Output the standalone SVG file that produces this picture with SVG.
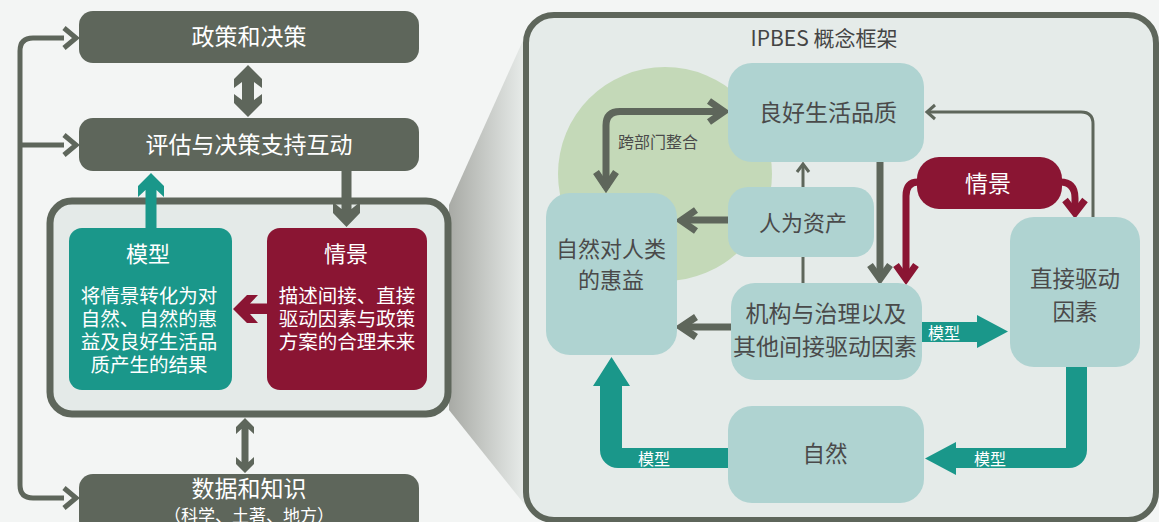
<svg xmlns="http://www.w3.org/2000/svg" width="1159" height="522" viewBox="0 0 1159 522">
<defs>
<linearGradient id="funnel" x1="0" y1="0" x2="1" y2="0">
<stop offset="0" stop-color="#a8aaa5"/>
<stop offset="1" stop-color="#e8ecea"/>
</linearGradient>
<style>
text{font-family:"Noto Sans CJK SC","Noto Sans",sans-serif;text-anchor:middle}
.dk{fill:#5e665b}
.w{fill:#ffffff}
.g{fill:#4a4a4a}
.node{fill:#afd3d1}
.teal{fill:#1a978a}
.red{fill:#8a1533}
.ln{fill:none;stroke:#5e665b;stroke-width:5}
.gl{fill:none;stroke:#5e665b;stroke-width:7;stroke-linejoin:miter}
.th{fill:none;stroke:#5e665b;stroke-width:3}
.rl{fill:none;stroke:#8a1533;stroke-width:7;stroke-linejoin:miter}
</style>
</defs>
<rect width="1159" height="522" fill="#f3f5f4"/>
<polygon points="449,205 525,36 525,505 449,410" fill="url(#funnel)"/>

<g id="connectors-left">
<path class="ln" d="M64,38 H33 Q20,38 20,51 V485 Q20,498 33,498 H64 M20,145 H64"/>
<polyline class="ln" points="64,28 76,38 64,48"/>
<polyline class="ln" points="64,135 76,145 64,155"/>
<polyline class="ln" points="64,488 76,498 64,508"/>
<polygon class="dk" points="248,65 262,79 262,88 254,82 254,100 262,94 262,103 248,117 234,103 234,94 242,100 242,82 234,88 234,79"/>
<polygon class="dk" points="245,418 254,427 254,434 248.5,429 248.5,462 254,457 254,464 245,473 236,464 236,457 241.5,462 241.5,429 236,434 236,427"/>
</g>

<g id="policy">
<rect x="79" y="11" width="340" height="52" rx="14" class="dk"/>
<text x="249" y="45" font-size="23" class="w">政策和决策</text>
</g>
<g id="assessment">
<rect x="79" y="118" width="340" height="53" rx="14" class="dk"/>
<text x="249" y="153" font-size="23" class="w">评估与决策支持互动</text>
</g>
<g id="data">
<rect x="79" y="474" width="340" height="60" rx="14" class="dk"/>
<text x="249" y="497" font-size="23" class="w">数据和知识</text>
<text x="249" y="522" font-size="17" class="w">（科学、土著、地方）</text>
</g>

<g id="container">
<rect x="50" y="201" width="398" height="213" rx="22" fill="#e4eae8" stroke="#5e665b" stroke-width="7"/>
</g>
<g id="model">
<rect x="69" y="228" width="163" height="162" rx="13" class="teal"/>
<text x="148" y="262" font-size="22" class="w">模型</text>
<text x="149" y="303" font-size="19.5" class="w">将情景转化为对</text>
<text x="149" y="326" font-size="19.5" class="w">自然、自然的惠</text>
<text x="149" y="349" font-size="19.5" class="w">益及良好生活品</text>
<text x="149" y="372" font-size="19.5" class="w">质产生的结果</text>
</g>
<g id="scenario">
<rect x="267" y="228" width="160" height="162" rx="13" class="red"/>
<text x="346" y="262" font-size="22" class="w">情景</text>
<text x="347" y="303" font-size="19.5" class="w">描述间接、直接</text>
<text x="347" y="326" font-size="19.5" class="w">驱动因素与政策</text>
<text x="347" y="349" font-size="19.5" class="w">方案的合理未来</text>
</g>
<g id="connectors-inner">
<polygon class="teal" points="151,173 164,186 164,197 156.5,190 156.5,228 145.5,228 145.5,190 138,197 138,186"/>
<polygon class="dk" points="341.5,171 351.5,171 351.5,209 360,202 360,213 346.5,227 333,213 333,202 341.5,209"/>
<polygon class="red" points="233,309 247,295 258,295 250,303.5 267,303.5 267,314 250,314 258,323 247,323"/>
</g>

<g id="ipbes-panel">
<rect x="526" y="15" width="630" height="505" rx="28" fill="#e5ebe9" stroke="#5e665b" stroke-width="6"/>
<text x="824" y="46" font-size="21" fill="#444">IPBES 概念框架</text>
<circle cx="665" cy="174" r="107" fill="#c4d9b8"/>
</g>

<g id="connectors">
<line class="th" x1="803" y1="283" x2="803" y2="164"/>
<polyline class="th" points="797,172 803,164 809,172"/>
<path class="th" d="M1093,217 V124 Q1093,112 1081,112 H927"/>
<polyline class="th" points="935,105 927,112 935,119"/>
<path class="gl" d="M725,111.5 H620 Q606,111.5 606,125.5 V188"/>
<polyline class="gl" points="709,101 724,111.5 709,122"/>
<polyline class="gl" points="596,172 606,187 616,172"/>
<line class="gl" x1="729" y1="220" x2="681" y2="220"/>
<polyline class="gl" points="696,210 681,220.5 696,231"/>
<line class="gl" x1="731" y1="327" x2="681" y2="327"/>
<polyline class="gl" points="696,317 681,327 696,337"/>
<line class="gl" x1="880" y1="162" x2="880" y2="278"/>
<polyline class="gl" points="870,265 880,279 890,265"/>
<path class="rl" d="M918,182 Q906,182 906,196 V278"/>
<polyline class="rl" points="896,265 906,279 916,265"/>
<path class="rl" d="M1060,182 Q1075,182 1075,198 V212"/>
<polyline class="rl" points="1065,200 1075,213 1085,200"/>
<polygon class="teal" points="921,322 977,322 977,315 1008,331.5 977,348 977,342 921,342"/>
<path class="teal" d="M1066,366 H1087 V450 A18,18 0 0 1 1069,468 H956 V475 L925,458.5 L956,442 V448 H1066 Z"/>
<path class="teal" d="M728,448 V468 H618 A18,18 0 0 1 600,450 V386 H593 L611.5,357 L630,386 H622 V448 Z"/>
<text x="944" y="339" font-size="16" class="w">模型</text>
<text x="990" y="465" font-size="16" class="w">模型</text>
<text x="654" y="465" font-size="16" class="w">模型</text>
<text x="658" y="148" font-size="16" class="g">跨部门整合</text>
</g>

<g id="wellbeing">
<rect x="728" y="63" width="196" height="99" rx="24" class="node"/>
<text x="828" y="121" font-size="23" class="g">良好生活品质</text>
</g>
<g id="assets">
<rect x="728" y="187" width="146" height="70" rx="20" class="node"/>
<text x="803" y="231" font-size="22" class="g">人为资产</text>
</g>
<g id="benefits">
<rect x="546" y="193" width="131" height="162" rx="24" class="node"/>
<text x="611" y="257" font-size="22" class="g">自然对人类</text>
<text x="611" y="288" font-size="22" class="g">的惠益</text>
</g>
<g id="institutions">
<rect x="731" y="283" width="191" height="97" rx="24" class="node"/>
<text x="826" y="322" font-size="23" class="g">机构与治理以及</text>
<text x="825" y="355" font-size="23" class="g">其他间接驱动因素</text>
</g>
<g id="drivers">
<rect x="1010" y="217" width="130" height="150" rx="24" class="node"/>
<text x="1075" y="287" font-size="22.5" class="g">直接驱动</text>
<text x="1075" y="320" font-size="22.5" class="g">因素</text>
</g>
<g id="nature">
<rect x="728" y="406" width="196" height="97" rx="24" class="node"/>
<text x="825" y="462" font-size="22.5" class="g">自然</text>
</g>
<g id="scenario-ipbes">
<rect x="917" y="157" width="145" height="52" rx="22" class="red"/>
<text x="988" y="192" font-size="23" class="w">情景</text>
</g>
</svg>
